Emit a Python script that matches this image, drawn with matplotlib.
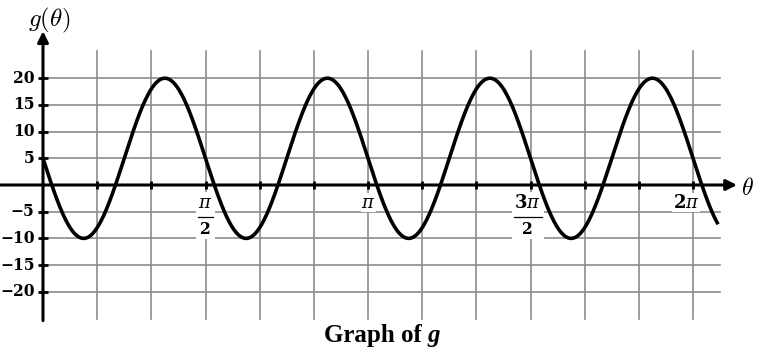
import numpy as np
import matplotlib
matplotlib.use("Agg")
import matplotlib.pyplot as plt

# values
midline = 5
amplitude = -15          # starts at midline going down
freq = 4                 # four full waves over [0, 2pi]
theta_end = 2.077 * np.pi
ytick_vals = [20, 15, 10, 5, -5, -10, -15, -20]
# x labels: (position, numerator, denominator or None)
xtick_labels = [
    (np.pi / 2, r"$\pi$", "2"),
    (np.pi, r"$\pi$", None),
    (3 * np.pi / 2, r"$\mathbf{3}\pi$", "2"),
    (2 * np.pi, r"$\mathbf{2}\pi$", None),
]
grid_steps = 12          # pi/6 gridlines

plt.rcParams["mathtext.fontset"] = "cm"

W, H = 764, 353
fig = plt.figure(figsize=(W / 100, H / 100), dpi=100)
ax = fig.add_axes([0, 0, 1, 1])
ax.set_axis_off()

unit = np.pi / 6
px_x = 54.17 / unit   # pixels per radian
px_y = 5.34           # pixels per g unit
ox, oy = 43, 185      # origin in pixels
ax.set_xlim(-ox / px_x, (W - ox) / px_x)
ax.set_ylim((oy - H) / px_y, oy / px_y)

grid_c = "#8c8c8c"
bold = dict(family="DejaVu Serif", fontweight="bold", fontsize=11.2)
lab_kw = dict(fontsize=13, math_fontfamily="dejavuserif", zorder=2,
              ha="center", va="center")

# grid
for k in range(1, grid_steps + 1):
    ax.plot([k * unit, k * unit], [-25, 25], color=grid_c, lw=1.2, zorder=1)
for v in ytick_vals:
    ax.plot([0, 12.5 * unit], [v, v], color=grid_c, lw=1.2, zorder=1)

# axes with arrows
ax.annotate("", xy=(0, 28.8), xytext=(0, -25.4),
            arrowprops=dict(arrowstyle="-|>", lw=2.2, color="black",
                            mutation_scale=16, shrinkA=0, shrinkB=0), zorder=3)
ax.annotate("", xy=((737 - ox) / px_x, 0), xytext=(-ox / px_x, 0),
            arrowprops=dict(arrowstyle="-|>", lw=2.2, color="black",
                            mutation_scale=16, shrinkA=0, shrinkB=0), zorder=3)

# ticks
kx = np.arange(1, grid_steps + 1) * unit
ax.plot(kx, np.zeros_like(kx), ls="none", marker="|", ms=6, mew=2, color="black", zorder=3)
ax.plot(np.zeros(len(ytick_vals)), ytick_vals, ls="none", marker="_", ms=7, mew=2,
        color="black", zorder=3)

# y tick labels
for v in ytick_vals:
    ax.text(-8.5 / px_x, v, str(v).replace("-", "\u2212"), ha="right", va="center", **bold)

# x tick labels
for x, num, den in xtick_labels:
    if den is None:
        xx = x - (7 / px_x if "2" in num else 0)
        ax.text(xx, -3.3, num, bbox=dict(facecolor="white", edgecolor="none", pad=0.3),
                **lab_kw)
    else:
        half = (7.5 if "3" not in num else 14) / px_x
        xx = x - (3 / px_x if "3" in num else 0)
        ax.fill_between([xx - half - 2 / px_x, xx + half + 2 / px_x], -10.2, -1.3,
                        color="white", lw=0, zorder=2)
        ax.text(xx, -3.4, num, **lab_kw)
        ax.plot([xx - half, xx + half], [-6.0, -6.0], color="black", lw=0.9, zorder=2)
        ax.text(xx, -8.3, den, ha="center", va="center", zorder=2, **bold)

ax.text(0.06, 30.9, r"$g(\theta)$", ha="center", va="center", fontsize=18)
ax.text((741 - ox) / px_x, -0.6, r"$\theta$", ha="left", va="center", fontsize=17)

# curve
theta = np.linspace(0, theta_end, 800)
g = midline + amplitude * np.sin(freq * theta)
ax.plot(theta, g, color="black", lw=2.6, zorder=4, solid_capstyle="butt")

fig.text(422 / W, 1 - 342 / H, "Graph of", ha="right", va="baseline",
         fontsize=18, fontweight="bold", family="Liberation Serif")
fig.text(427 / W, 1 - 342 / H, "g", ha="left", va="baseline",
         fontsize=18, fontweight="bold", style="italic", family="Liberation Serif")

fig.savefig("out.png", dpi=100)
